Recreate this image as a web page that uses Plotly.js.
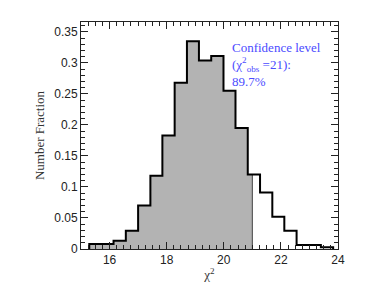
<!DOCTYPE html>
<html>
<head>
<meta charset="utf-8">
<script src="https://cdn.plot.ly/plotly-3.0.1.min.js"></script>
<style>html,body{margin:0;padding:0;background:#fff;}#chart{width:374px;height:282px;}</style>
</head>
<body>
<div id="chart"></div>
<script>
// Histogram of chi^2 values (bin edges and fractions per bin)
const binEdges = [15.29, 15.72, 16.14, 16.57, 17.00, 17.43, 17.85, 18.28, 18.71, 19.13, 19.56,
                  19.99, 20.41, 20.84, 21.27, 21.70, 22.12, 22.55, 22.98, 23.40, 23.83];
const binValues = [0.008, 0.008, 0.0135, 0.0295, 0.070, 0.118, 0.183, 0.268, 0.335, 0.304,
                   0.311, 0.255, 0.195, 0.120, 0.091, 0.052, 0.0295, 0.0065, 0.0065, 0.003];
const chiObs = 21;
const confidenceText = "Confidence level<br>(χ<sup>2</sup><sub>obs</sub> =21):<br>89.7%";

// Outline (step) trace
const outX = [binEdges[0]];
const outY = [0];
for (let i = 0; i < binValues.length; i++) { outX.push(binEdges[i]); outY.push(binValues[i]); }
outX.push(binEdges[binEdges.length - 1]); outY.push(0);

// Filled region up to chiObs
const fillX = [], fillY = [];
let lastVal = 0;
for (let i = 0; i < binValues.length; i++) {
  if (binEdges[i] >= chiObs) break;
  fillX.push(binEdges[i]); fillY.push(binValues[i]); lastVal = binValues[i];
}
fillX.push(chiObs); fillY.push(0);

const traces = [
  {x: fillX, y: fillY, type: 'scatter', mode: 'lines', line: {shape: 'hv', width: 0, color: '#b3b3b3'},
   fill: 'tozeroy', fillcolor: '#b3b3b3', hoverinfo: 'skip'},
  {x: [chiObs, chiObs], y: [0, lastVal], type: 'scatter', mode: 'lines', line: {color: '#444', width: 1}},
  {x: outX, y: outY, type: 'scatter', mode: 'lines', line: {shape: 'hv', color: '#000', width: 2}}
];

const axisCommon = {
  showline: true, linecolor: '#222', linewidth: 1, mirror: 'ticks',
  ticks: 'inside', ticklen: 7, tickwidth: 1, tickcolor: '#222',
  showgrid: false, zeroline: false,
  tickfont: {family: 'Liberation Sans, Arial, sans-serif', size: 12, color: '#222'}
};

const layout = {
  width: 374, height: 282,
  margin: {l: 81, r: 36, t: 22, b: 33},
  paper_bgcolor: '#fff', plot_bgcolor: '#fff',
  showlegend: false,
  xaxis: Object.assign({}, axisCommon, {
    range: [15, 24], dtick: 2, tick0: 0,
    minor: {dtick: 0.25, ticks: 'inside', ticklen: 4, tickcolor: '#222', showgrid: false},
    title: {text: 'χ<sup>2</sup>', font: {family: 'Liberation Serif, serif', size: 13, color: '#333'}, standoff: 4}
  }),
  yaxis: Object.assign({}, axisCommon, {
    range: [0, 0.366], dtick: 0.05, tick0: 0,
    minor: {dtick: 0.01, ticks: 'inside', ticklen: 4, tickcolor: '#222', showgrid: false},
    title: {text: 'Number Fraction', font: {family: 'Liberation Serif, serif', size: 13, color: '#333'}, standoff: 6}
  }),
  annotations: [{
    text: confidenceText, xref: 'paper', yref: 'paper', x: 0.578, y: 0.93,
    xanchor: 'left', yanchor: 'top', align: 'left', showarrow: false,
    font: {family: 'Liberation Serif, serif', size: 13, color: '#4b4bff'}
  }]
};

Plotly.newPlot('chart', traces, layout, {staticPlot: true, displayModeBar: false});
</script>
</body>
</html>
